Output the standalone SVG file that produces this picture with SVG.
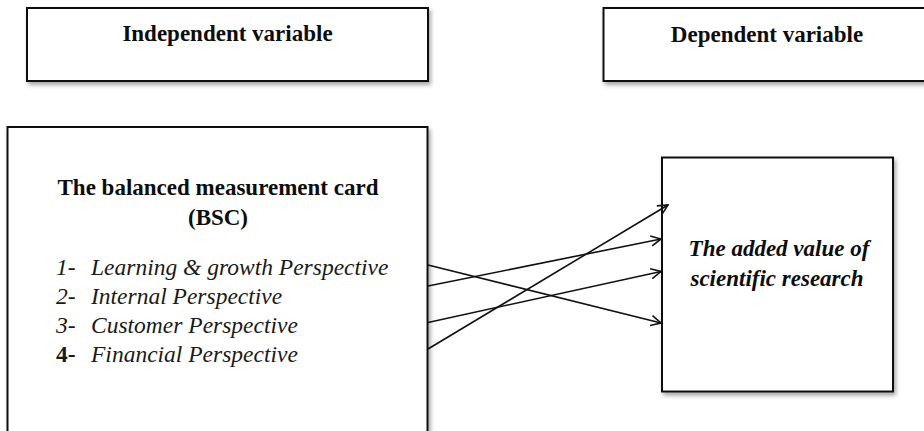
<svg xmlns="http://www.w3.org/2000/svg" width="924" height="431" viewBox="0 0 924 431">
  <style>
    .box { fill: #ffffff; stroke: #111111; stroke-width: 2; filter: url(#shadow); }
    .head { font-family: "Liberation Serif", "Times New Roman", serif; font-weight: bold; font-size: 23px; fill: #0d0d0d; text-anchor: middle; }
    .item { font-family: "Liberation Serif", "Times New Roman", serif; font-style: italic; font-size: 23.5px; fill: #1a1a1a; }
    .num4 { font-style: normal; font-weight: bold; }
    .result { font-family: "Liberation Serif", "Times New Roman", serif; font-weight: bold; font-style: italic; font-size: 23px; fill: #0d0d0d; text-anchor: middle; }
    .link { fill: none; stroke: #111111; stroke-width: 1.6; marker-end: url(#open-arrow); }
  </style>
  <defs>
    <filter id="shadow" x="-5%" y="-5%" width="115%" height="120%">
      <feDropShadow dx="2" dy="3" stdDeviation="2" flood-color="#000000" flood-opacity="0.35"/>
    </filter>
    <marker id="open-arrow" viewBox="0 0 12 12" refX="11" refY="6" markerWidth="12" markerHeight="12" markerUnits="userSpaceOnUse" orient="auto">
      <path d="M1,1 L11,6 L1,11" fill="none" stroke="#111111" stroke-width="1.6"/>
    </marker>
  </defs>

  <rect width="924" height="431" fill="#ffffff"/>

  <g id="independent-label">
    <rect class="box" x="27" y="8" width="401" height="73"/>
    <text class="head" x="227.5" y="41">Independent variable</text>
  </g>

  <g id="dependent-label">
    <rect class="box" x="603.5" y="8" width="330" height="73"/>
    <text class="head" x="767" y="42">Dependent variable</text>
  </g>

  <g id="bsc">
    <rect class="box" x="7.5" y="127" width="420" height="312"/>
    <text class="head" x="218" y="195">The balanced measurement card</text>
    <text class="head" x="218" y="225">(BSC)</text>
    <text class="item" y="275"><tspan x="56">1-</tspan><tspan x="91">Learning &amp; growth Perspective</tspan></text>
    <text class="item" y="304"><tspan x="56">2-</tspan><tspan x="91">Internal Perspective</tspan></text>
    <text class="item" y="333"><tspan x="56">3-</tspan><tspan x="91">Customer Perspective</tspan></text>
    <text class="item" y="362"><tspan x="56" class="num4">4-</tspan><tspan x="91">Financial Perspective</tspan></text>
  </g>

  <g id="added-value">
    <rect class="box" x="662" y="157.5" width="231" height="234"/>
    <text class="result" x="779" y="256">The added value of</text>
    <text class="result" x="777" y="286">scientific research</text>
  </g>

  <g id="connectors">
    <line class="link" x1="428" y1="265" x2="661" y2="323"/>
    <line class="link" x1="428" y1="286" x2="661" y2="239"/>
    <line class="link" x1="428" y1="322.5" x2="661" y2="271.5"/>
    <line class="link" x1="428" y1="349" x2="668" y2="205"/>
  </g>
</svg>
